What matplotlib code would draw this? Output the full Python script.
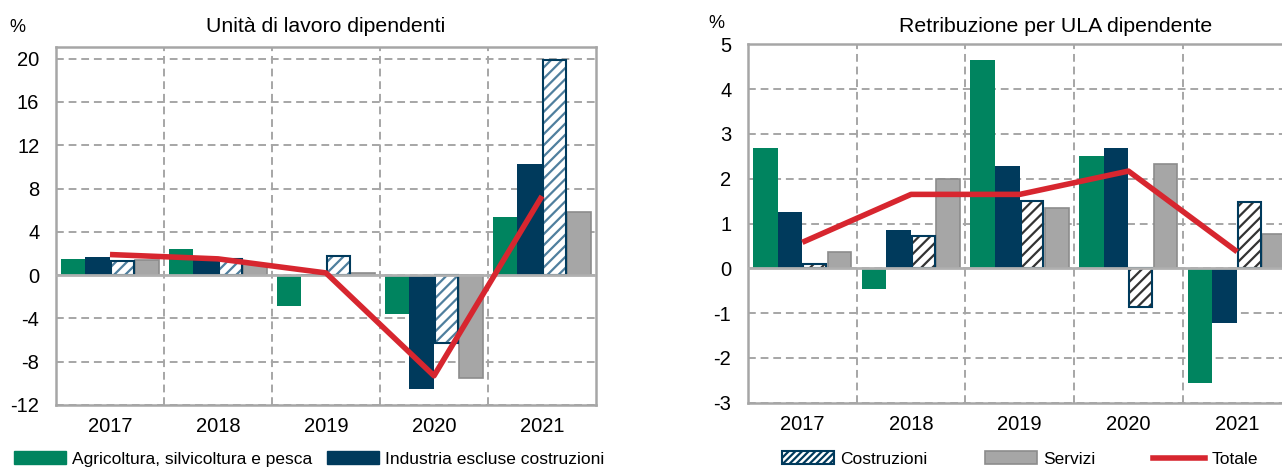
import matplotlib.pyplot as plt
from matplotlib.patches import Patch
from matplotlib.lines import Line2D
import numpy as np

plt.rcParams['font.family'] = ['Liberation Sans', 'DejaVu Sans']
plt.rcParams['hatch.linewidth'] = 1.6
plt.rcParams['axes.unicode_minus'] = False

years = ['2017', '2018', '2019', '2020', '2021']
series = ['Agricoltura, silvicoltura e pesca', 'Industria escluse costruzioni',
          'Costruzioni', 'Servizi', 'Totale']

# Unità di lavoro dipendenti (var. %)
ula_agri = [1.5, 2.4, -2.9, -3.6, 5.35]
ula_ind = [1.7, 1.6, 0.1, -10.5, 10.3]
ula_costr = [1.3, 1.45, 1.8, -6.3, 19.9]
ula_serv = [1.4, 1.05, 0.15, -9.5, 5.85]
ula_tot = [1.9, 1.5, 0.2, -9.3, 7.3]

# Retribuzione per ULA dipendente (var. %)
ret_agri = [2.69, -0.47, 4.65, 2.51, -2.57]
ret_ind = [1.26, 0.86, 2.28, 2.69, -1.23]
ret_costr = [0.09, 0.71, 1.51, -0.86, 1.47]
ret_serv = [0.36, 2.0, 1.34, 2.32, 0.76]
ret_tot = [0.58, 1.65, 1.65, 2.17, 0.37]

GREEN = '#00845f'
NAVY = '#003a5c'
GREY = '#a6a6a6'
GREY_EDGE = '#8c8c8c'
RED = '#d7262f'
GRID = '#a6a6a6'

fig = plt.figure(figsize=(12.82, 4.70), dpi=100)
ax1 = fig.add_axes([56 / 1282, 65 / 470, 540 / 1282, 358.3 / 470])
ax2 = fig.add_axes([748 / 1282, 67.3 / 470, 543.5 / 1282, 358.4 / 470])

x = np.arange(len(years))
w = 0.2275


def draw(ax, agri, ind, costr, serv, tot, hatch_col):
    ax.bar(x - 1.5 * w, agri, w, color=GREEN, zorder=2)
    ax.bar(x - 0.5 * w, ind, w, color=NAVY, zorder=2)
    ax.bar(x + 0.5 * w, costr, w * 0.92, color='white', edgecolor=hatch_col,
           hatch='///', linewidth=0, zorder=2)
    ax.bar(x + 0.5 * w, costr, w * 0.92, fill=False, edgecolor=NAVY,
           linewidth=1.5, zorder=3)
    ax.bar(x + 1.5 * w, serv, w * 0.95, color=GREY, edgecolor=GREY_EDGE,
           linewidth=1.2, zorder=2)
    ax.axhline(0, color='#b0b0b0', linewidth=2, zorder=4)
    ax.plot(x, tot, color=RED, linewidth=4, zorder=5, solid_capstyle='butt')

    ax.set_xlim(-0.5, 4.5)
    ax.set_xticks(x)
    ax.set_xticklabels(years)
    ax.set_xticks(x[:-1] + 0.5, minor=True)
    ax.tick_params(which='both', length=0, labelsize=14.5)
    ax.tick_params(axis='x', pad=9)
    ax.tick_params(axis='y', pad=12)
    ax.grid(axis='y', which='major', color=GRID, linestyle=(0, (4, 2.5)), linewidth=1.4, zorder=0)
    ax.grid(axis='x', which='minor', color=GRID, linestyle=(0, (4, 2.5)), linewidth=1.4, zorder=0)
    for s in ax.spines.values():
        s.set_color(GRID)
        s.set_linewidth(1.8)


draw(ax1, ula_agri, ula_ind, ula_costr, ula_serv, ula_tot, '#4f7f9e')
ax1.set_ylim(-12, 21.1)
ax1.set_yticks(range(-12, 21, 4))

draw(ax2, ret_agri, ret_ind, ret_costr, ret_serv, ret_tot, '#333333')
ax2.set_ylim(-3, 5)
ax2.set_yticks(range(-3, 6))

fig.text(326 / 1282, 1 - 26 / 470, 'Unità di lavoro dipendenti', ha='center', va='center', fontsize=15.3)
fig.text(17 / 1282, 1 - 27 / 470, '%', ha='center', va='center', fontsize=13)
fig.text(1056 / 1282, 1 - 26 / 470, 'Retribuzione per ULA dipendente', ha='center', va='center', fontsize=15.3)
fig.text(716 / 1282, 1 - 23 / 470, '%', ha='center', va='center', fontsize=13)

# legend entries, one by one
handles = [
    Patch(facecolor=GREEN, edgecolor=GREEN),
    Patch(facecolor=NAVY, edgecolor=NAVY),
    Patch(facecolor='white', edgecolor=NAVY, hatch='/////', linewidth=1.5),
    Patch(facecolor=GREY, edgecolor=GREY_EDGE, linewidth=1.2),
    Line2D([], [], color=RED, linewidth=4),
]
leg_x = [14, 327, 782, 985, 1153]
for h, lab, lx in zip(handles, series, leg_x):
    leg = fig.legend([h], [lab], loc='center left',
                     bbox_to_anchor=(lx / 1282, 1 - 459 / 470),
                     frameon=False, fontsize=12.5, handlelength=3.0,
                     handleheight=0.7, handletextpad=0.35, borderpad=0,
                     borderaxespad=0)

fig.savefig('out.png', dpi=100)
